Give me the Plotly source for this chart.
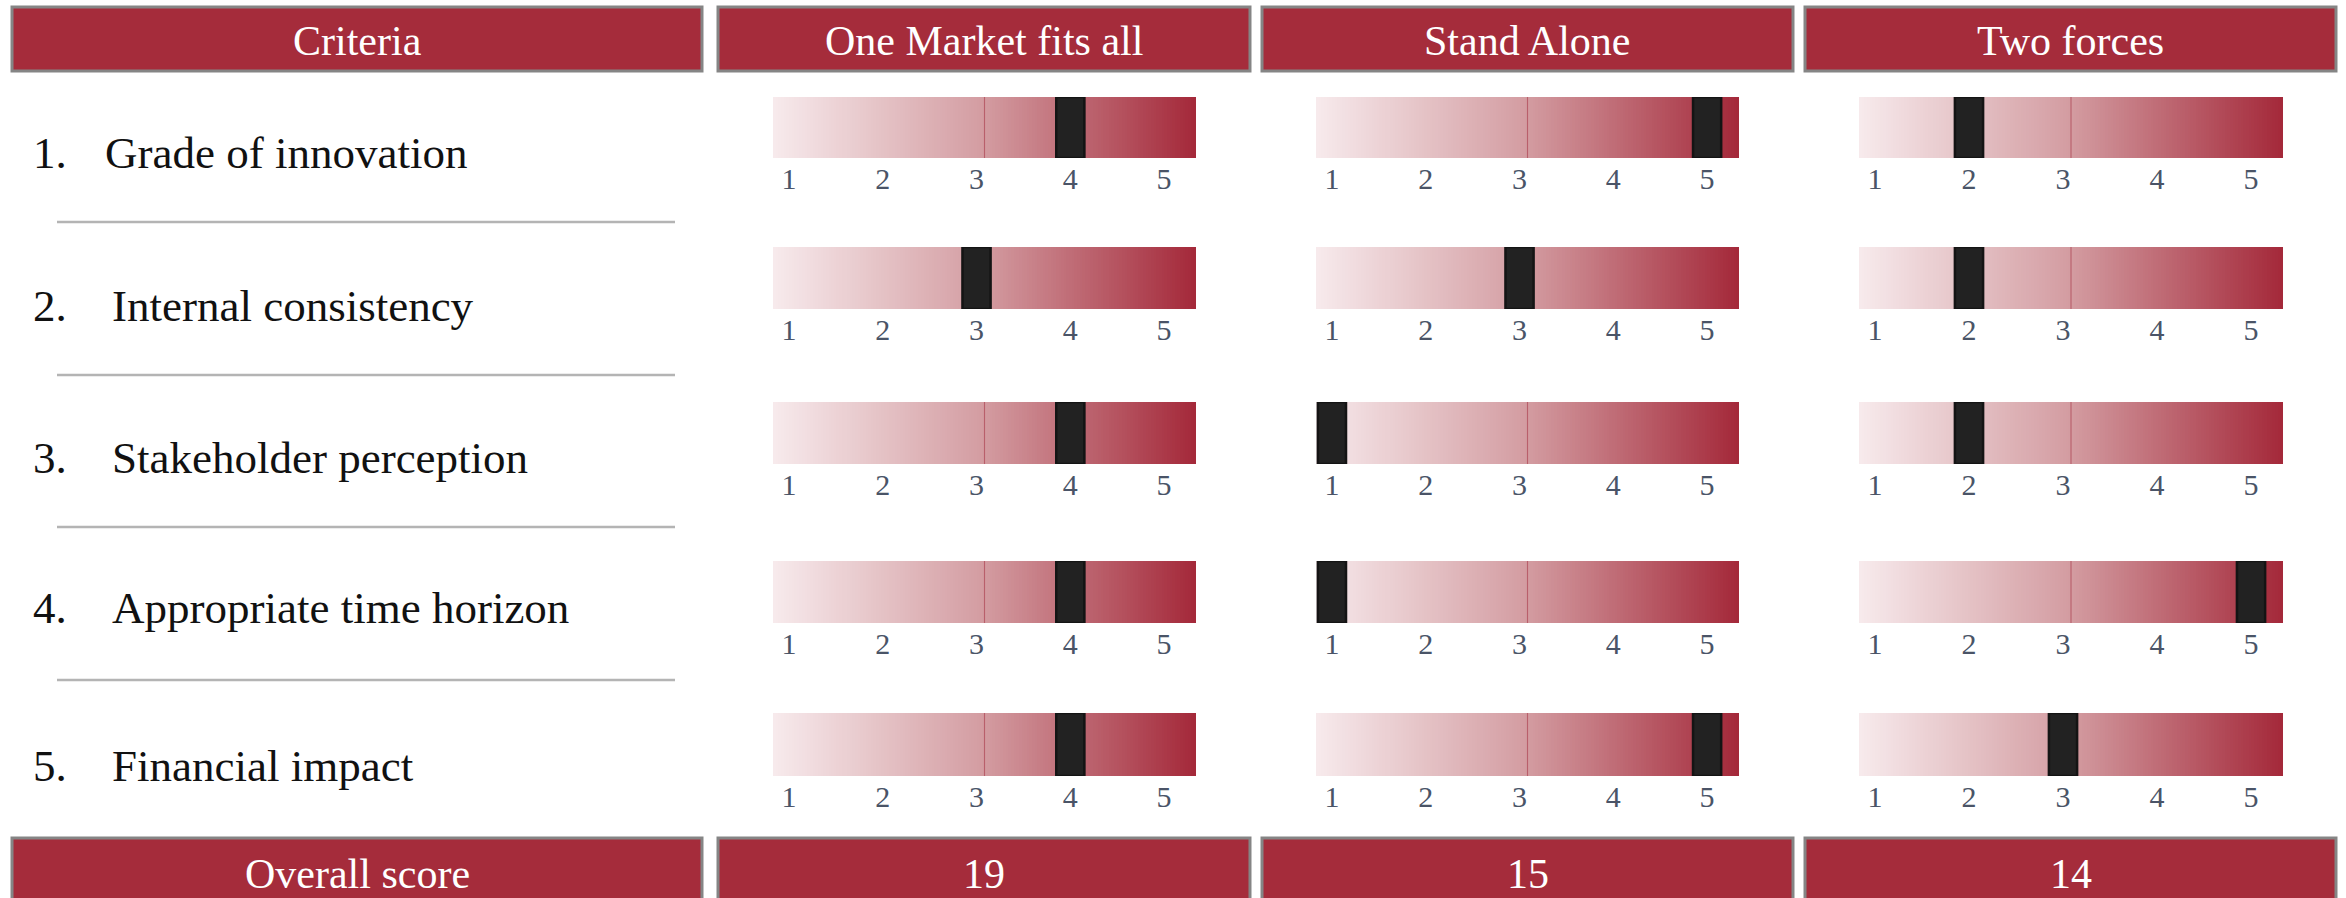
import numpy as np
import plotly.graph_objects as go

# ---------------- data ----------------
CRITERIA = ["Grade of innovation", "Internal consistency", "Stakeholder perception",
            "Appropriate time horizon", "Financial impact"]
OPTIONS = ["One Market fits all", "Stand Alone", "Two forces"]
SCORES_ONE_MARKET = [4, 3, 4, 4, 4]
SCORES_STAND_ALONE = [5, 3, 1, 1, 5]
SCORES_TWO_FORCES = [2, 2, 2, 5, 3]
SCALE_TICKS = [1, 2, 3, 4, 5]
HEADER_LEFT = "Criteria"
FOOTER_LEFT = "Overall score"

SCORES = [SCORES_ONE_MARKET, SCORES_STAND_ALONE, SCORES_TWO_FORCES]

# ---------------- geometry / style ----------------
W, H = 2346, 898
SCALE_RANGE = [0.83, 5.34]
COL_BOX = [(12, 702), (718, 1250), (1262, 1793), (1805, 2336)]
HEAD_Y = (7, 71)
FOOT_Y = (838, 904)
BAR_X = [(773, 1196), (1316, 1739), (1859, 2283)]
BAR_Y = [(97, 158), (247, 309), (402, 464), (561, 623), (713, 776)]
LABEL_Y = [153, 306, 458, 608, 766]
SEP_Y = [222, 375, 527, 680]
RED = "#a52c3b"
FONT = "Liberation Serif"


def px(x):
    return x / W


def py(y):
    return 1 - y / H


fig = go.Figure()
shapes = []
annotations = []
layout_axes = {}

grad_colors = [[0.0, "#f7eaec"], [0.5, "#d39ca1"], [1.0, "#a4293a"]]
n_cells = 160
edges = np.linspace(SCALE_RANGE[0], SCALE_RANGE[1], n_cells + 1)
zrow = [list(range(n_cells))]
mid = (SCALE_RANGE[0] + SCALE_RANGE[1]) / 2

for r in range(len(CRITERIA)):
    for c in range(len(OPTIONS)):
        k = r * len(OPTIONS) + c + 1
        xa = "x" if k == 1 else f"x{k}"
        ya = "y" if k == 1 else f"y{k}"
        xkey = "xaxis" if k == 1 else f"xaxis{k}"
        ykey = "yaxis" if k == 1 else f"yaxis{k}"
        x0, x1 = BAR_X[c]
        y0, y1 = BAR_Y[r]
        layout_axes[xkey] = dict(
            domain=[px(x0), px(x1)], range=SCALE_RANGE, anchor=ya,
            tickvals=SCALE_TICKS, ticktext=[str(t) for t in SCALE_TICKS],
            showgrid=False, zeroline=False, showline=False, ticks="",
            tickfont=dict(family=FONT, size=30, color="#4a5467"),
            fixedrange=True,
        )
        layout_axes[ykey] = dict(
            domain=[py(y1), py(y0)], range=[0, 1], anchor=xa, visible=False,
            fixedrange=True,
        )
        fig.add_trace(go.Heatmap(
            x=edges, y=[0, 1], z=zrow, colorscale=grad_colors, showscale=False,
            xaxis=xa, yaxis=ya, hoverinfo="skip",
        ))
        # thin divider at the middle of the scale (drawn under the marker)
        fig.add_trace(go.Bar(
            x=[mid], y=[1], base=0, width=0.012,
            marker=dict(color="rgba(180,85,98,0.85)", line=dict(width=0)),
            xaxis=xa, yaxis=ya, showlegend=False, hoverinfo="skip",
        ))
        fig.add_trace(go.Bar(
            x=[SCORES[c][r]], y=[1], base=0, width=0.30,
            marker=dict(color="#222222", line=dict(color="#141414", width=2.5)),
            xaxis=xa, yaxis=ya, showlegend=False, hoverinfo="skip",
        ))

# header and footer boxes
head_texts = [HEADER_LEFT] + OPTIONS
foot_texts = [FOOTER_LEFT] + [str(sum(s)) for s in SCORES]
for (bx0, bx1), ht, ft in zip(COL_BOX, head_texts, foot_texts):
    for (yy0, yy1), txt in ((HEAD_Y, ht), (FOOT_Y, ft)):
        shapes.append(dict(type="rect", xref="paper", yref="paper",
                           x0=px(bx0), x1=px(bx1), y0=py(yy1), y1=py(yy0),
                           fillcolor=RED, line=dict(color="#858585", width=3), layer="below"))
        annotations.append(dict(xref="paper", yref="paper", x=px((bx0 + bx1) / 2),
                                y=py((yy0 + yy1) / 2 + 2.5), text=txt, showarrow=False,
                                xanchor="center", yanchor="middle",
                                font=dict(family=FONT, size=42, color="white")))

# criteria labels
for i, (name, yy) in enumerate(zip(CRITERIA, LABEL_Y)):
    annotations.append(dict(xref="paper", yref="paper", x=px(31), y=py(yy),
                            text=f"{i + 1}.", showarrow=False, xanchor="left", yanchor="middle",
                            font=dict(family=FONT, size=45, color="#111111")))
    annotations.append(dict(xref="paper", yref="paper", x=px(103 if i == 0 else 110), y=py(yy),
                            text=name, showarrow=False, xanchor="left", yanchor="middle",
                            font=dict(family=FONT, size=45, color="#111111")))

for yy in SEP_Y:
    shapes.append(dict(type="line", xref="paper", yref="paper", x0=px(57), x1=px(675),
                       y0=py(yy), y1=py(yy), line=dict(color="#b4b4b4", width=2.5)))

fig.update_layout(
    width=W, height=H, margin=dict(l=0, r=0, t=0, b=0),
    paper_bgcolor="white", plot_bgcolor="rgba(0,0,0,0)",
    showlegend=False, shapes=shapes, annotations=annotations,
    barmode="overlay",
    **layout_axes,
)

fig.write_html("out.html")
